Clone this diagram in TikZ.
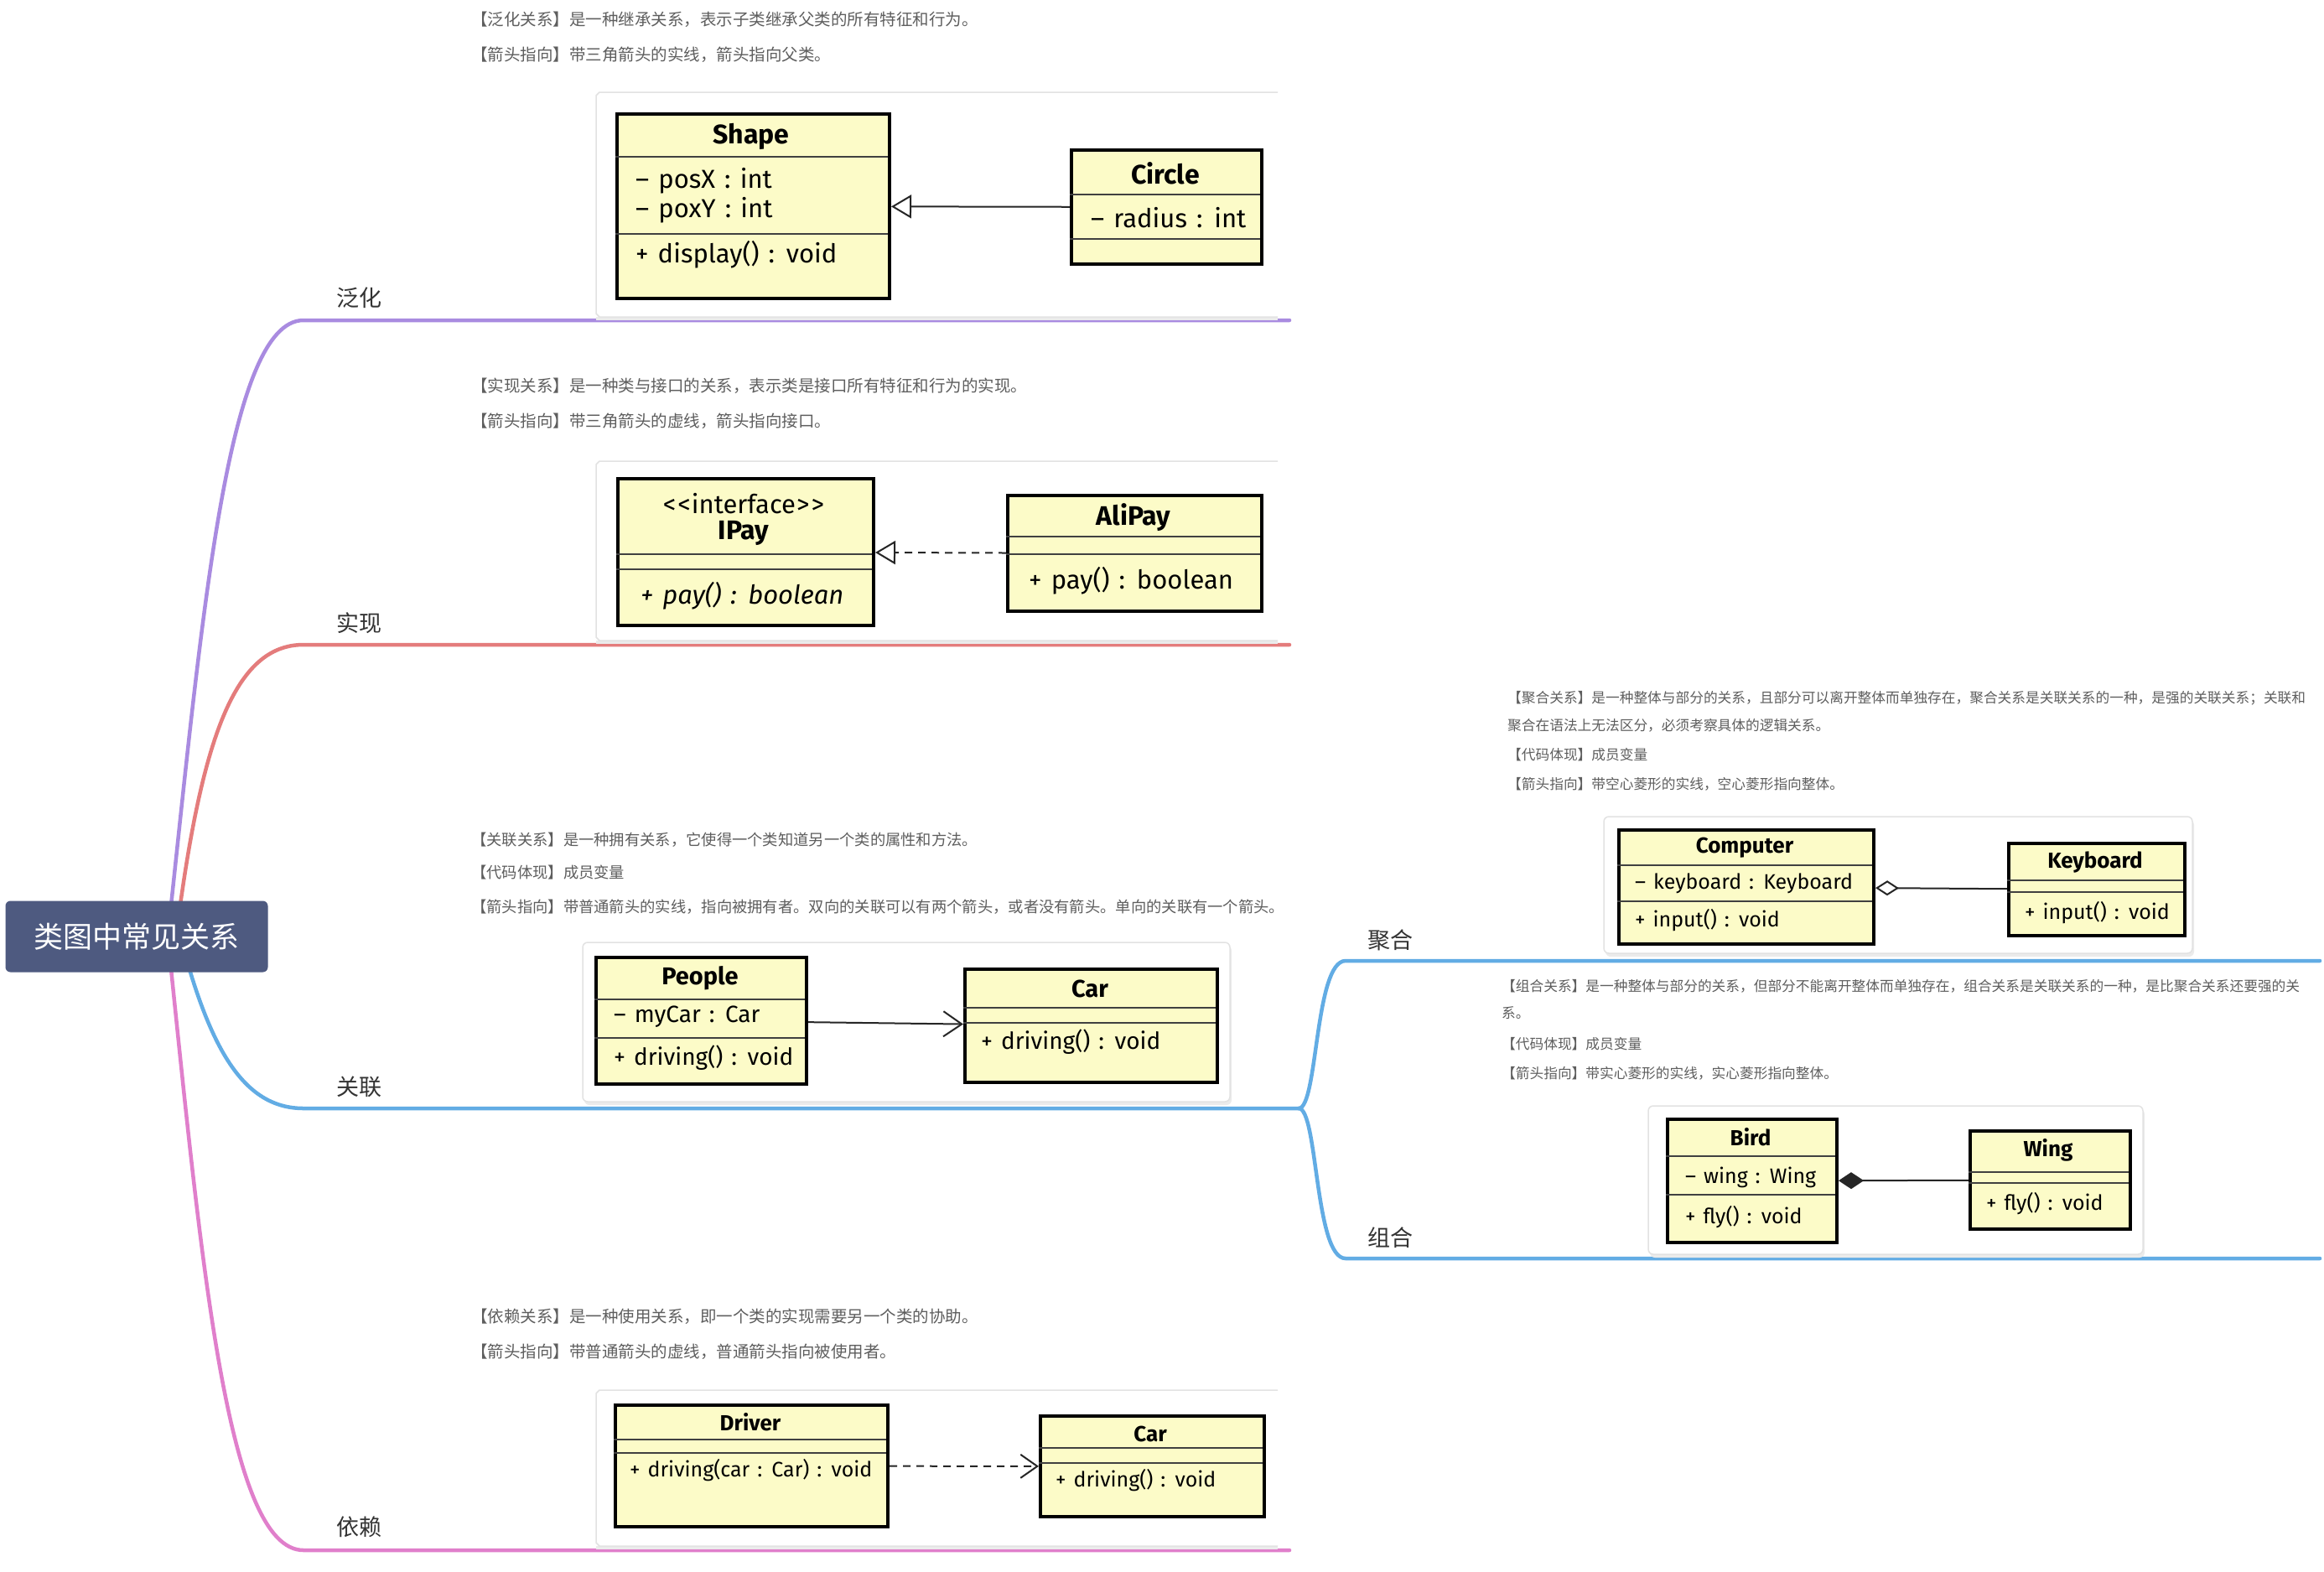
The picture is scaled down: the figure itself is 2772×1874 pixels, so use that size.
\documentclass[tikz,border=0pt]{standalone}
\usepackage{fontspec}
\setmainfont{Noto Sans CJK SC}
\newfontfamily\cjk{Noto Sans CJK SC}
\newfontfamily\umlf[WordSpace=1.35]{Fira Sans}
\usetikzlibrary{arrows.meta}
\definecolor{rootc}{HTML}{4E5A80}
\definecolor{purplec}{HTML}{A98BE0}
\definecolor{redc}{HTML}{E47C7C}
\definecolor{bluec}{HTML}{62ACE4}
\definecolor{pinkc}{HTML}{E07FCB}
\definecolor{descc}{HTML}{5E5E5E}
\definecolor{labc}{HTML}{333333}
\definecolor{umlfill}{HTML}{FCFBC8}
\definecolor{cardc}{HTML}{E2E2E2}
\tikzset{
  branch/.style={line width=4.5pt, line cap=round},
  desc/.style={anchor=west, inner sep=0pt, text=descc, font=\cjk\fontsize{#1}{#1}\selectfont},
  desc/.default=19.5,
  blabel/.style={inner sep=0pt, text=labc, font=\cjk\fontsize{27}{27}\selectfont},
  card/.style={draw=cardc, line width=1.5pt, fill=white},
  cardshadow/.style={fill=black!8, draw=none},
  umlbox/.style={draw=black, line width=4pt, fill=umlfill, anchor=north west, inner sep=0pt},
  umldiv/.style={draw=black!75, line width=2pt},
  umltitle/.style={inner sep=0pt, font=\umlf\bfseries\fontsize{#1}{#1}\selectfont},
  umltext/.style={inner sep=0pt, anchor=west, font=\umlf\fontsize{#1}{#1}\selectfont},
  conn/.style={line width=2pt, draw=black!85},
  gen/.style={conn, -{Triangle[open, length=24pt, width=28pt, line width=2pt, fill=white]}},
  real/.style={conn, dash pattern=on 9pt off 7pt, -{Triangle[open, length=24pt, width=28pt, line width=2pt, fill=white]}},
  assoc/.style={conn, -{Straight Barb[length=22pt, width=30pt, line width=2pt]}},
  dep/.style={conn, dash pattern=on 9pt off 7pt, -{Straight Barb[length=20pt, width=28pt, line width=2pt]}},
  aggr/.style={conn, -{Diamond[open, length=28pt, width=18pt, line width=2pt, fill=white]}},
  comp/.style={conn, -{Diamond[length=30pt, width=20pt]}},
}
\begin{document}
\begin{tikzpicture}[x=1pt, y=-1pt]
\useasboundingbox[fill=white] (0,0) rectangle (2772,1874);

% ---------- branches ----------
\draw[branch, purplec] (200,1117) .. controls (240,750) and (270,382) .. (362,382) -- (1538,382);
\draw[branch, redc] (210,1117) .. controls (240,880) and (280,769) .. (362,769) -- (1538,769);
\draw[branch, bluec] (215,1117) .. controls (250,1250) and (290,1322) .. (362,1322) -- (1549,1322);
\draw[branch, pinkc] (200,1117) .. controls (240,1500) and (270,1849) .. (362,1849) -- (1538,1849);
\draw[branch, bluec] (1549,1322) .. controls (1572,1322) and (1568,1146) .. (1605,1146) -- (2767,1146);
\draw[branch, bluec] (1549,1322) .. controls (1572,1322) and (1568,1501) .. (1605,1501) -- (2767,1501);

% ---------- root ----------
\node[fill=rootc, rounded corners=6pt, minimum width=313pt, minimum height=85pt, inner sep=0pt,
      text=white, font=\cjk\fontsize{35}{35}\selectfont] (root) at (163,1117) {类图中常见关系};

% ---------- branch labels ----------
\node[blabel] (l1) at (428,355) {泛化};
\node[blabel] (l2) at (428,743) {实现};
\node[blabel] (l3) at (428,1296) {关联};
\node[blabel] (l4) at (428,1821) {依赖};
\node[blabel] (l5) at (1658,1121) {聚合};
\node[blabel] (l6) at (1658,1476) {组合};

% ---------- 泛化 ----------
\node[desc] (d11) at (562,23) {【泛化关系】是一种继承关系，表示子类继承父类的所有特征和行为。};
\node[desc] (d12) at (562,65) {【箭头指向】带三角箭头的实线，箭头指向父类。};
\fill[cardshadow] (711,382) -- (711,114) -- (1524,114) -- (1524,382) -- cycle;
\fill[white] (711,110) rectangle (1524,378);
\draw[draw=cardc, line width=1.5pt] (1524,110) -- (715,110) -- (711,114) -- (711,374) -- (715,378) -- (1524,378);
\node[umlbox, minimum width=325pt, minimum height=220pt] (shape) at (734,134) {};
\draw[umldiv] (734,187) -- (1059,187);
\draw[umldiv] (734,279) -- (1059,279);
\node[umltitle=32] (shapet) at (896,163) {Shape};
\node[umltext=31] (shapea1) at (758,216) {– posX : int};
\node[umltext=31] (shapea2) at (758,251) {– poxY : int};
\node[umltext=31] (shapem1) at (758,304) {+ display() : void};
\node[umlbox, minimum width=227pt, minimum height=136pt] (circle) at (1276,177) {};
\draw[umldiv] (1276,232) -- (1503,232);
\draw[umldiv] (1276,285) -- (1503,285);
\node[umltitle=32] (circlet) at (1390,207) {Circle};
\node[umltext=31] (circlea1) at (1301,260) {– radius : int};
\draw[gen] (circle) -- (shape);

% ---------- 实现 ----------
\node[desc] (d21) at (562,460) {【实现关系】是一种类与接口的关系，表示类是接口所有特征和行为的实现。};
\node[desc] (d22) at (562,502) {【箭头指向】带三角箭头的虚线，箭头指向接口。};
\fill[cardshadow] (711,768) -- (711,554) -- (1524,554) -- (1524,768) -- cycle;
\fill[white] (711,550) rectangle (1524,764);
\draw[draw=cardc, line width=1.5pt] (1524,550) -- (715,550) -- (711,554) -- (711,760) -- (715,764) -- (1524,764);
\node[umlbox, minimum width=305pt, minimum height=175pt] (ipay) at (735,569) {};
\draw[umldiv] (735,661) -- (1040,661);
\draw[umldiv] (735,679) -- (1040,679);
\node[umltext=31, anchor=center] (ipays) at (887,601) {<\kern2pt<\kern1pt interface\kern1pt>\kern2pt>};
\node[umltitle=32] (ipayt) at (887,636) {IPay};
\node[umltext=31] (ipaym1) at (764,711) {\itshape + pay() : boolean};
\node[umlbox, minimum width=303pt, minimum height=138pt] (alipay) at (1200,589) {};
\draw[umldiv] (1200,640) -- (1503,640);
\draw[umldiv] (1200,661) -- (1503,661);
\node[umltitle=32] (alipayt) at (1352,617) {AliPay};
\node[umltext=31] (alipaym1) at (1227,693) {+ pay() : boolean};
\draw[real] (alipay) -- (ipay);

% ---------- 关联 ----------
\node[desc=18.3] (d31) at (562,1002) {【关联关系】是一种拥有关系，它使得一个类知道另一个类的属性和方法。};
\node[desc=18.3] (d32) at (562,1041) {【代码体现】成员变量};
\node[desc=18.3] (d33) at (562,1082) {【箭头指向】带普通箭头的实线，指向被拥有者。双向的关联可以有两个箭头，或者没有箭头。单向的关联有一个箭头。};
\fill[cardshadow, rounded corners=6pt] (697,1128) rectangle (1469,1318);
\draw[card, rounded corners=6pt] (695,1124) rectangle (1467,1314);
\node[umlbox, minimum width=251pt, minimum height=151pt] (people) at (709,1140) {};
\draw[umldiv] (709,1192) -- (960,1192);
\draw[umldiv] (709,1238) -- (960,1238);
\node[umltitle=29] (peoplet) at (835,1167) {People};
\node[umltext=28] (peoplea1) at (732,1213) {– myCar : Car};
\node[umltext=28] (peoplem1) at (732,1262) {+ driving() : void};
\node[umlbox, minimum width=301pt, minimum height=135pt] (car1) at (1149,1154) {};
\draw[umldiv] (1149,1202) -- (1450,1202);
\draw[umldiv] (1149,1220) -- (1450,1220);
\node[umltitle=29] (car1t) at (1300,1179) {Car};
\node[umltext=28] (car1m1) at (1170,1243) {+ driving() : void};
\draw[assoc] (people) -- (car1);

% ---------- 依赖 ----------
\node[desc] (d41) at (562,1570) {【依赖关系】是一种使用关系，即一个类的实现需要另一个类的协助。};
\node[desc] (d42) at (562,1612) {【箭头指向】带普通箭头的虚线，普通箭头指向被使用者。};
\fill[cardshadow] (711,1848) -- (711,1662) -- (1524,1662) -- (1524,1848) -- cycle;
\fill[white] (711,1658) rectangle (1524,1844);
\draw[draw=cardc, line width=1.5pt] (1524,1658) -- (715,1658) -- (711,1662) -- (711,1840) -- (715,1844) -- (1524,1844);
\node[umlbox, minimum width=325pt, minimum height=145pt] (driver) at (732,1674) {};
\draw[umldiv] (732,1717) -- (1057,1717);
\draw[umldiv] (732,1733) -- (1057,1733);
\node[umltitle=26] (drivert) at (895,1696) {Driver};
\node[umltext=25] (driverm1) at (751,1754) {+ driving(car : Car) : void};
\node[umlbox, minimum width=267pt, minimum height=120pt] (car2) at (1239,1687) {};
\draw[umldiv] (1239,1727) -- (1506,1727);
\draw[umldiv] (1239,1745) -- (1506,1745);
\node[umltitle=26] (car2t) at (1372,1710) {Car};
\node[umltext=25] (car2m1) at (1259,1766) {+ driving() : void};
\draw[dep] (driver) -- (car2);

% ---------- 聚合 ----------
\node[desc=16.7] (d51) at (1798,833) {【聚合关系】是一种整体与部分的关系，且部分可以离开整体而单独存在，聚合关系是关联关系的一种，是强的关联关系；关联和};
\node[desc=16.7] (d52) at (1798,865) {聚合在语法上无法区分，必须考察具体的逻辑关系。};
\node[desc=16.7] (d53) at (1798,900) {【代码体现】成员变量};
\node[desc=16.7] (d54) at (1798,935) {【箭头指向】带空心菱形的实线，空心菱形指向整体。};
\fill[cardshadow, rounded corners=6pt] (1915,978) rectangle (2617,1141);
\draw[card, rounded corners=6pt] (1913,974) rectangle (2615,1137);
\node[umlbox, minimum width=304pt, minimum height=136pt] (computer) at (1929,988) {};
\draw[umldiv] (1929,1032) -- (2233,1032);
\draw[umldiv] (1929,1075) -- (2233,1075);
\node[umltitle=26] (computert) at (2081,1011) {Computer};
\node[umltext=25] (computera1) at (1950,1054) {– keyboard : Keyboard};
\node[umltext=25] (computerm1) at (1950,1098) {+ input() : void};
\node[umlbox, minimum width=210pt, minimum height=110pt] (keyboard) at (2394,1004) {};
\draw[umldiv] (2394,1050) -- (2604,1050);
\draw[umldiv] (2394,1064) -- (2604,1064);
\node[umltitle=26] (keyboardt) at (2499,1029) {Keyboard};
\node[umltext=25] (keyboardm1) at (2415,1089) {+ input() : void};
\draw[aggr] (keyboard) -- (computer);

% ---------- 组合 ----------
\node[desc=16.7] (d61) at (1791,1176) {【组合关系】是一种整体与部分的关系，但部分不能离开整体而单独存在，组合关系是关联关系的一种，是比聚合关系还要强的关};
\node[desc=16.7] (d62) at (1791,1208) {系。};
\node[desc=16.7] (d63) at (1791,1245) {【代码体现】成员变量};
\node[desc=16.7] (d64) at (1791,1280) {【箭头指向】带实心菱形的实线，实心菱形指向整体。};
\fill[cardshadow, rounded corners=6pt] (1968,1323) rectangle (2558,1500);
\draw[card, rounded corners=6pt] (1966,1319) rectangle (2556,1496);
\node[umlbox, minimum width=202pt, minimum height=147pt] (bird) at (1987,1333) {};
\draw[umldiv] (1987,1379) -- (2189,1379);
\draw[umldiv] (1987,1425) -- (2189,1425);
\node[umltitle=26] (birdt) at (2088,1356) {Bird};
\node[umltext=25] (birda1) at (2010,1404) {– wing : Wing};
\node[umltext=25] (birdm1) at (2010,1452) {+ fly() : void};
\node[umlbox, minimum width=191pt, minimum height=117pt] (wing) at (2348,1347) {};
\draw[umldiv] (2348,1398) -- (2539,1398);
\draw[umldiv] (2348,1411) -- (2539,1411);
\node[umltitle=26] (wingt) at (2443,1372) {Wing};
\node[umltext=25] (wingm1) at (2369,1436) {+ fly() : void};
\draw[comp] (wing) -- (bird);
\end{tikzpicture}
\end{document}
